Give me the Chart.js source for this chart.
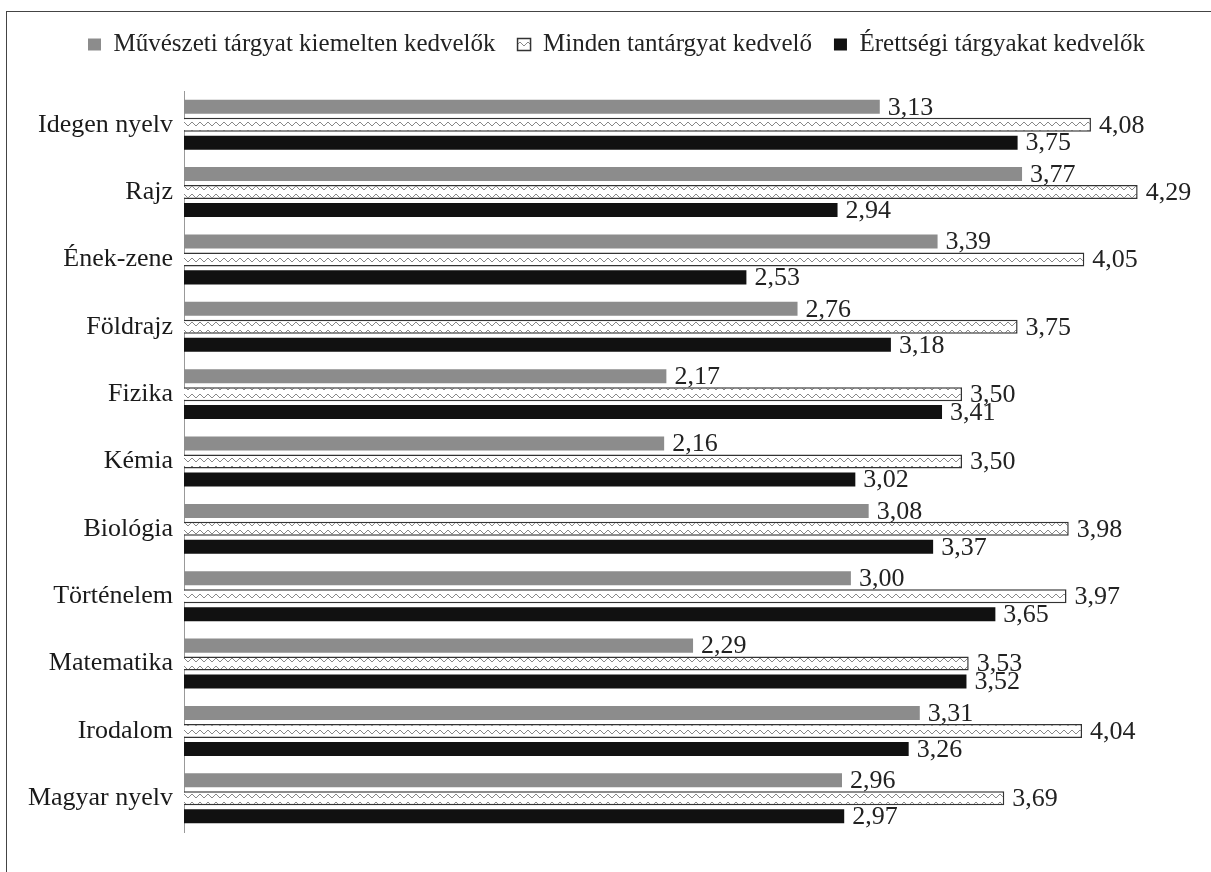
<!DOCTYPE html>
<html>
<head>
<meta charset="utf-8">
<script src="https://cdn.jsdelivr.net/npm/chart.js@4.4.1/dist/chart.umd.min.js"></script>
<style>
  html, body { margin: 0; padding: 0; background: #fff; overflow: hidden; }
  #frame { position: absolute; left: 6px; top: 11px; width: 1230px; height: 900px; border: 1px solid #444; box-sizing: border-box; }
  #wrap { position: absolute; left: 0; top: 0; width: 1211px; height: 872px; }
</style>
</head>
<body>
<div id="frame"></div>
<div id="wrap"><canvas id="chart"></canvas></div>
<script>
const subjects = ['Idegen nyelv', 'Rajz', 'Ének-zene', 'Földrajz', 'Fizika', 'Kémia', 'Biológia', 'Történelem', 'Matematika', 'Irodalom', 'Magyar nyelv'];
const artLovers = [3.13, 3.77, 3.39, 2.76, 2.17, 2.16, 3.08, 3.00, 2.29, 3.31, 2.96];
const allLovers = [4.08, 4.29, 4.05, 3.75, 3.50, 3.50, 3.98, 3.97, 3.53, 4.04, 3.69];
const examLovers = [3.75, 2.94, 2.53, 3.18, 3.41, 3.02, 3.37, 3.65, 3.52, 3.26, 2.97];
const seriesNames = ['Művészeti tárgyat kiemelten kedvelők', 'Minden tantárgyat kedvelő', 'Érettségi tárgyakat kedvelők'];

const serif = "'Liberation Serif', 'Times New Roman', serif";

// zigzag pattern for the middle series
function makePattern() {
  const c = document.createElement('canvas');
  c.width = 8; c.height = 8;
  const g = c.getContext('2d');
  g.fillStyle = '#fff';
  g.fillRect(0, 0, 8, 8);
  g.strokeStyle = '#888';
  g.lineWidth = 1;
  g.beginPath();
  g.moveTo(0, 2); g.lineTo(4, 6); g.lineTo(8, 2);
  g.stroke();
  return g.createPattern(c, 'repeat');
}
const pattern = makePattern();

const legendMargin = {
  id: 'legendMargin',
  beforeInit(chart) {
    const fit = chart.legend.fit;
    chart.legend.fit = function () {
      fit.bind(chart.legend)();
      this.height += 24;
    };
  }
};

const valueLabels = {
  id: 'valueLabels',
  afterDatasetsDraw(chart) {
    const ctx = chart.ctx;
    ctx.save();
    ctx.font = '26px ' + serif;
    ctx.fillStyle = '#222';
    ctx.textAlign = 'left';
    ctx.textBaseline = 'middle';
    chart.data.datasets.forEach((ds, i) => {
      chart.getDatasetMeta(i).data.forEach((bar, j) => {
        const txt = ds.data[j].toFixed(2).replace('.', ',');
        ctx.fillText(txt, bar.x + 8, bar.y + 1);
      });
    });
    ctx.restore();
  }
};

new Chart(document.getElementById('chart'), {
  type: 'bar',
  data: {
    labels: subjects,
    datasets: [
      { label: seriesNames[0], data: artLovers, backgroundColor: '#8c8c8c', borderWidth: 0 },
      { label: seriesNames[1], data: allLovers, backgroundColor: pattern, borderColor: '#333', borderWidth: 1.5 },
      { label: seriesNames[2], data: examLovers, backgroundColor: '#111', borderWidth: 0 }
    ]
  },
  options: {
    indexAxis: 'y',
    responsive: true,
    maintainAspectRatio: false,
    animation: false,
    layout: { padding: { top: 10, bottom: 40, left: 22, right: 0 } },
    datasets: { bar: { categoryPercentage: 0.8, barPercentage: 0.78 } },
    plugins: {
      legend: {
        position: 'top',
        labels: {
          font: { family: serif, size: 25 },
          color: '#222',
          boxWidth: 13,
          boxHeight: 12,
          padding: 22
        }
      },
      tooltip: { enabled: false }
    },
    scales: {
      x: {
        display: false,
        min: 0,
        max: 4.62
      },
      y: {
        afterFit: scale => { scale.width = 162; },
        grid: { display: false },
        border: { display: true, color: '#999' },
        ticks: {
          font: { family: serif, size: 26 },
          color: '#1a1a1a',
          padding: 3
        }
      }
    }
  },
  plugins: [legendMargin, valueLabels]
});
</script>
</body>
</html>
